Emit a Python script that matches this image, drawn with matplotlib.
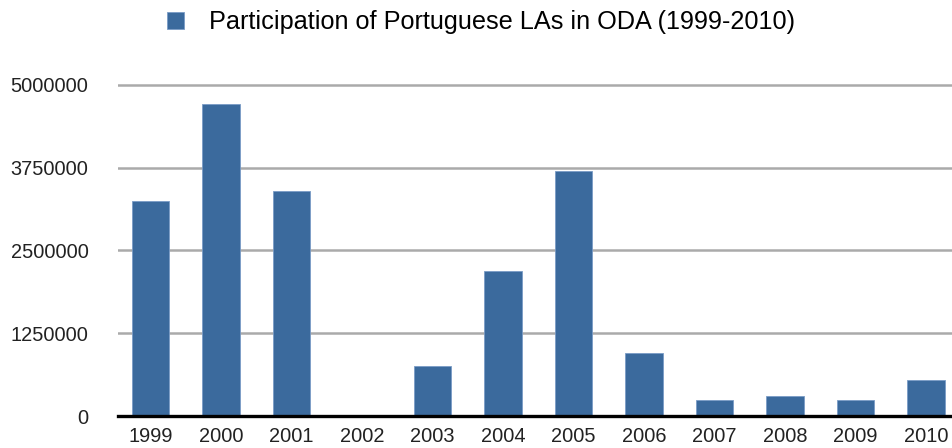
import matplotlib
matplotlib.use("Agg")
import matplotlib.pyplot as plt
from matplotlib.patches import Patch

years = ["1999", "2000", "2001", "2002", "2003", "2004", "2005", "2006", "2007", "2008", "2009", "2010"]
values = [3250000, 4710000, 3400000, 0, 750000, 2195000, 3705000, 950000, 246000, 300000, 246000, 540000]
yticks = [0, 1250000, 2500000, 3750000, 5000000]
series_label = "Participation of Portuguese LAs in ODA (1999-2010)"

plt.rcParams['font.family'] = ['Liberation Sans', 'DejaVu Sans']

W, H = 952, 448
fig = plt.figure(figsize=(W / 100, H / 100), dpi=100)
left_px = 117.7
zero_px = 416.0
px_per_unit = 66.2 / 1e6
ytop = 5.1e6
top_px = zero_px - ytop * px_per_unit
ax = fig.add_axes([left_px / W, 1 - zero_px / H, 1 - left_px / W, (zero_px - top_px) / H])

x = list(range(len(years)))
ax.bar(x, values, width=0.525, color='#3b6a9d', edgecolor='#7a9cc6', linewidth=0.6, zorder=3)

ax.set_ylim(0, ytop)
spacing = 70.5
xl = -(150.5 - left_px) / spacing
xr = 11 + (W - 926) / spacing
ax.set_xlim(xl, xr)

ax.set_yticks(yticks)
ax.set_yticklabels([str(v) for v in yticks])
ax.set_xticks(x)
ax.set_xticklabels(years)
ax.tick_params(axis='both', length=0, labelsize=14.4, colors='#222222')
ax.tick_params(axis='y', pad=21)
ax.tick_params(axis='x', pad=8)

for v in yticks[1:]:
    ax.axhline(v, color='#aaaaaa', linewidth=1.8, zorder=1)
ax.axhline(0, color='black', linewidth=2.4, zorder=4, clip_on=False)

for s in ax.spines.values():
    s.set_visible(False)

fig.legend(handles=[Patch(facecolor='#3b6a9d', edgecolor='#7a9cc6', linewidth=0.6)],
           labels=[series_label], loc='center', bbox_to_anchor=(481 / W, 1 - 22 / H),
           frameon=False, fontsize=18.2, handlelength=0.67, handleheight=0.67,
           handletextpad=1.0, borderpad=0, borderaxespad=0)

fig.savefig("out.png", dpi=100)
